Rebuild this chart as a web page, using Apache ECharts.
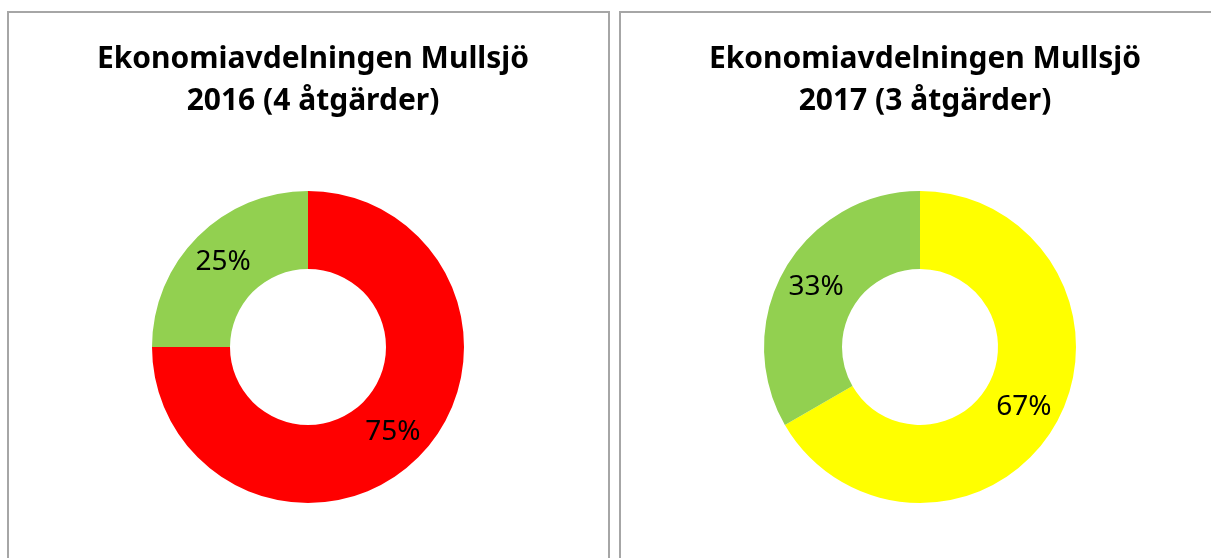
<!DOCTYPE html>
<html>
<head>
<meta charset="utf-8">
<script src="https://cdn.jsdelivr.net/npm/echarts@6/dist/echarts.min.js"></script>
<style>
  html, body { margin: 0; padding: 0; background: #fff; }
  #chart { width: 1211px; height: 558px; }
</style>
</head>
<body>
<div id="chart"></div>
<script>
  // data
  var titles = ['Ekonomiavdelningen Mullsjö\n2016 (4 åtgärder)', 'Ekonomiavdelningen Mullsjö\n2017 (3 åtgärder)']
  var names2016 = ['Röd', 'Grön']
  var values2016 = [3, 1]
  var colors2016 = ['#ff0000', '#92d050']
  var names2017 = ['Gul', 'Grön']
  var values2017 = [2, 1]
  var colors2017 = ['#ffff00', '#92d050']

  function pieData (names, values, colors) {
    return values.map(function (v, i) {
      return { name: names[i], value: v, itemStyle: { color: colors[i] } }
    })
  }

  function donut (cx, data) {
    return {
      type: 'pie',
      center: [cx, 347],
      radius: [78, 156],
      startAngle: 90,
      clockwise: true,
      silent: true,
      animation: false,
      percentPrecision: 0,
      itemStyle: { borderWidth: 0 },
      label: {
        show: true,
        position: 'inside',
        formatter: '{d}%',
        color: '#000',
        fontFamily: 'Noto Sans',
        fontSize: 28,
        textBorderWidth: 0
      },
      labelLine: { show: false },
      emphasis: { disabled: true },
      data: data
    }
  }

  var titleStyle = {
    fontFamily: 'Noto Sans',
    fontWeight: 'bold',
    fontSize: 30,
    lineHeight: 42,
    color: '#000'
  }

  var option = {
    animation: false,
    title: [
      { text: titles[0], left: 308, top: 33, textAlign: 'center', textStyle: titleStyle },
      { text: titles[1], left: 920, top: 33, textAlign: 'center', textStyle: titleStyle }
    ],
    graphic: [
      { type: 'rect', shape: { x: 8, y: 12, width: 601, height: 560 }, style: { fill: 'none', stroke: '#a6a6a6', lineWidth: 2 }, silent: true },
      { type: 'rect', shape: { x: 620, y: 12, width: 600, height: 560 }, style: { fill: 'none', stroke: '#a6a6a6', lineWidth: 2 }, silent: true }
    ],
    series: [
      donut(308, pieData(names2016, values2016, colors2016)),
      donut(920, pieData(names2017, values2017, colors2017))
    ]
  }

  var chart = echarts.init(document.getElementById('chart'), null, { renderer: 'canvas' })
  chart.setOption(option)
</script>
</body>
</html>
